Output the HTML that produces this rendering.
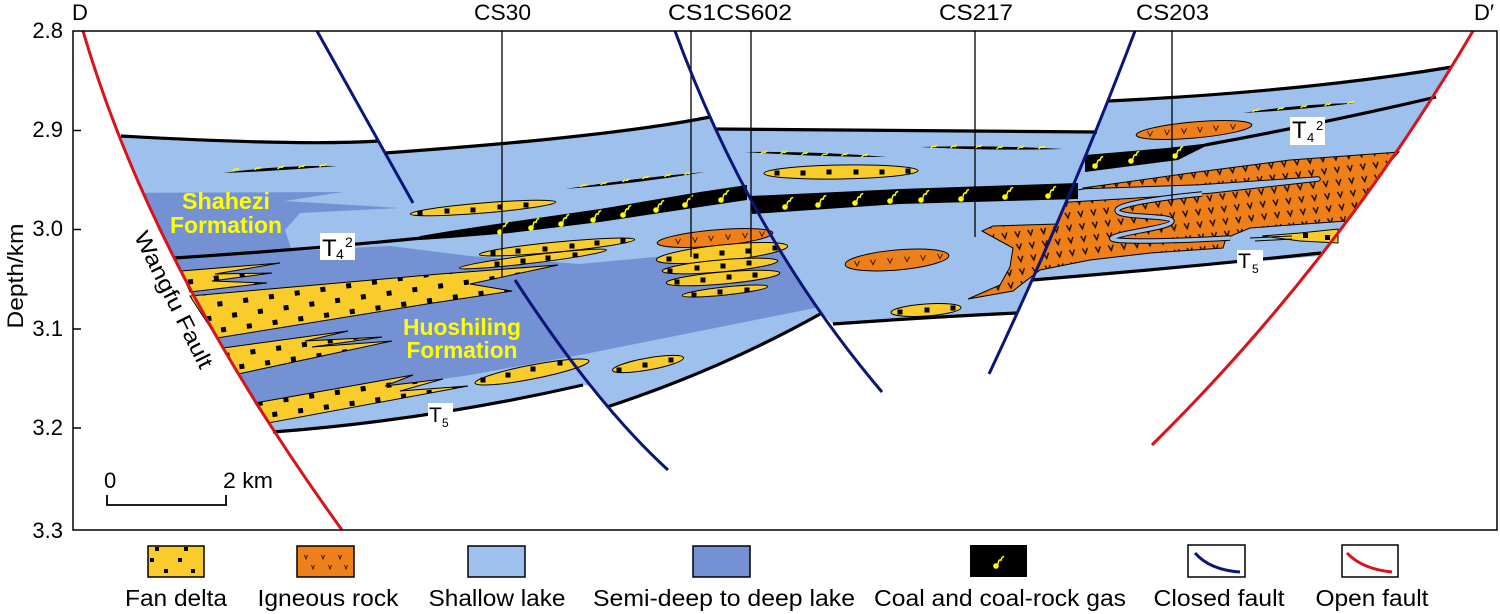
<!DOCTYPE html>
<html><head><meta charset="utf-8"><style>
html,body{margin:0;padding:0;background:#fff;}
svg{display:block;}
text{font-family:"Liberation Sans",Arial,sans-serif;}
</style></head><body>
<svg width="1500" height="614" viewBox="0 0 1500 614" xmlns="http://www.w3.org/2000/svg">
<defs>
<pattern id="fan" patternUnits="userSpaceOnUse" width="26" height="26" patternTransform="rotate(-8)">
<rect width="26" height="26" fill="#f9cb2b"/><rect x="4" y="4" width="5" height="5" fill="#000"/><rect x="17" y="17" width="5" height="5" fill="#000"/>
</pattern>
<pattern id="ign" patternUnits="userSpaceOnUse" width="13" height="12.5" patternTransform="rotate(-7)">
<rect width="13" height="12.5" fill="#ef8019"/><path d="M4,3.5 L6.5,9 L9,3.5" fill="none" stroke="#1a0d00" stroke-width="1.5"/>
</pattern>
<clipPath id="lbclip"><path d="M121,136 Q300,146 379,141 L385,153 C480,146 620,135 710,117 L726,151 L745,188 L765,225 L786,261 L809,295 L822,313 Q720,370 607,407 L591,386 L583,385 Q430,420 273,432 L271,426 L239,375 L209,324 L182,274 L158,224 L135,175 Z"/></clipPath>
<g id="cs"><circle cx="0" cy="0" r="2.8" fill="#ffff00"/><path d="M1.8,-1.8 L2.8,-5.2 Q3.5,-6.5 5,-5.8 L6.2,-8.8 L8.2,-9.6" fill="none" stroke="#ffff00" stroke-width="1.5"/></g>
<path id="ym" d="M-2.5,1 L0,-1 L2,-0.5 L4,-2.2" fill="none" stroke="#ffff00" stroke-width="1.4"/>
</defs>

<!-- block fills -->
<path d="M121,136 Q300,146 379,141 L385,153 C480,146 620,135 710,117 L726,151 L745,188 L765,225 L786,261 L809,295 L822,313 Q720,370 607,407 L591,386 L583,385 Q430,420 273,432 L271,426 L239,375 L209,324 L182,274 L158,224 L135,175 Z" fill="#9dc0ec"/>
<path d="M715,129 L900,131 L1097,132 L1081,166 L1067,200 L1052,234 L1037,269 L1029,286 L1021,304 L1017,313 Q930,317 833,324 L822,313 L809,295 L786,261 L765,225 L745,188 L726,151 Z" fill="#9dc0ec"/>
<path d="M1108,101 Q1300,92 1452,67 L1445,77 L1417,121 L1387,165 L1357,208 L1341,229 L1325,250 L1321,256 Q1180,268 1032,280 L1037,269 L1052,234 L1067,200 L1081,166 L1095,132 L1102,115 Z" fill="#9dc0ec"/>

<!-- deep lake -->
<g clip-path="url(#lbclip)">
<path d="M100,193 L343,192 L285,201 L400,208 L300,213 L285,230 L292,251 L390,246 L470,256 L580,264 L783,245 L830,245 L830,305 L580,355 L470,375 L300,400 L262,412 L100,420 Z" fill="#7491d3"/>
</g>

<!-- fan deltas big -->
<g stroke="#000" stroke-width="1" fill="url(#fan)">
<path d="M181,271 L280,263 L215,274 L272,273 L212,281 L267,283 L190,292 Z"/>
<path d="M190,296 L440,274 L558,265 L470,284 L512,291 L433,303 L217,338 Z"/>
<path d="M223,348 L348,331 L305,341 L382,337 L312,347 L392,341 L238,374 Z"/>
<path d="M255,403 L413,375 L385,386 L443,379 L400,391 L468,386 L268,423 Z"/>
</g>

<!-- orange lenses -->
<g stroke="#000" stroke-width="1" fill="#ef8019">
<ellipse cx="715" cy="238" rx="58" ry="8" transform="rotate(-5 715 238)"/>
<ellipse cx="897" cy="260" rx="52" ry="10" transform="rotate(-5 897 260)"/>
<ellipse cx="1194" cy="130" rx="58" ry="8" transform="rotate(-5 1194 130)"/>
</g>
<g stroke="#3a1a00" stroke-width="1" fill="none">
<path d="M675.5,238.7 L678,243.7 L680.5,238.7 M692.5,237.2 L695,242.2 L697.5,237.2 M708.5,235.8 L711,240.8 L713.5,235.8 M725.5,234.4 L728,239.4 L730.5,234.4 M742.5,232.9 L745,237.9 L747.5,232.9 M759.5,231.4 L762,236.4 L764.5,231.4"/>
<path d="M854.5,261 L857,266 L859.5,261 M870.5,259.6 L873,264.6 L875.5,259.6 M887.5,258.1 L890,263.1 L892.5,258.1 M904.5,256.6 L907,261.6 L909.5,256.6 M920.5,255.2 L923,260.2 L925.5,255.2 M937.5,253.8 L940,258.8 L942.5,253.8"/>
<path d="M1147.5,131.3 L1150,136.3 L1152.5,131.3 M1164.5,129.8 L1167,134.8 L1169.5,129.8 M1181.5,128.4 L1184,133.4 L1186.5,128.4 M1197.5,127 L1200,132 L1202.5,127 M1213.5,125.6 L1216,130.6 L1218.5,125.6 M1230.5,124.1 L1233,129.1 L1235.5,124.1"/>
</g>

<!-- fan lenses -->
<g stroke="#000" stroke-width="1" fill="#f9cb2b">
<ellipse cx="483" cy="208" rx="73" ry="5" transform="rotate(-4.7 483 208)"/>
<ellipse cx="557" cy="247" rx="78" ry="5" transform="rotate(-5.5 557 247)"/>
<ellipse cx="533" cy="259" rx="74" ry="4" transform="rotate(-7 533 259)"/>
<ellipse cx="532" cy="372" rx="58" ry="7" transform="rotate(-11 532 372)"/>
<ellipse cx="648" cy="364" rx="36" ry="6" transform="rotate(-10 648 364)"/>
<ellipse cx="722" cy="253" rx="66" ry="8" transform="rotate(-6 722 253)"/>
<ellipse cx="720" cy="266" rx="58" ry="6" transform="rotate(-5 720 266)"/>
<ellipse cx="723" cy="278" rx="57" ry="6" transform="rotate(-5 723 278)"/>
<ellipse cx="725" cy="291" rx="43" ry="4" transform="rotate(-6 725 291)"/>
<ellipse cx="841" cy="172" rx="77" ry="7" transform="rotate(-1 841 172)"/>
<ellipse cx="926" cy="310" rx="35" ry="6" transform="rotate(-4 926 310)"/>
</g>
<g fill="#000">
<rect x="417.5" y="210.5" width="5" height="5"/><rect x="444.5" y="208.5" width="5" height="5"/><rect x="470.5" y="207.5" width="5" height="5"/><rect x="497.5" y="204.5" width="5" height="5"/><rect x="523.5" y="202.5" width="5" height="5"/>
<rect x="490.5" y="250.5" width="5" height="5"/><rect x="515.5" y="248.5" width="5" height="5"/><rect x="542.5" y="246.5" width="5" height="5"/><rect x="569.5" y="243.5" width="5" height="5"/><rect x="594.5" y="240.5" width="5" height="5"/><rect x="620.5" y="238.5" width="5" height="5"/>
<rect x="494.5" y="261.5" width="5" height="5"/><rect x="520.5" y="258.5" width="5" height="5"/><rect x="545.5" y="255.5" width="5" height="5"/><rect x="572.5" y="252.5" width="5" height="5"/>
<rect x="480.5" y="377.5" width="5" height="5"/><rect x="505.5" y="372.5" width="5" height="5"/><rect x="530.5" y="366.5" width="5" height="5"/><rect x="557.5" y="360.5" width="5" height="5"/>
<rect x="616.5" y="367.5" width="5" height="5"/><rect x="642.5" y="362.5" width="5" height="5"/><rect x="668.5" y="357.5" width="5" height="5"/>
<rect x="666.5" y="256.5" width="5" height="5"/><rect x="693.5" y="253.5" width="5" height="5"/><rect x="719.5" y="250.5" width="5" height="5"/><rect x="745.5" y="248.5" width="5" height="5"/><rect x="772.5" y="245.5" width="5" height="5"/>
<rect x="667.5" y="268.5" width="5" height="5"/><rect x="694.5" y="265.5" width="5" height="5"/><rect x="720.5" y="263.5" width="5" height="5"/><rect x="746.5" y="260.5" width="5" height="5"/>
<rect x="674.5" y="279.5" width="5" height="5"/><rect x="700.5" y="277.5" width="5" height="5"/><rect x="726.5" y="274.5" width="5" height="5"/><rect x="752.5" y="272.5" width="5" height="5"/>
<rect x="691.5" y="292.5" width="5" height="5"/><rect x="717.5" y="289.5" width="5" height="5"/><rect x="744.5" y="287.5" width="5" height="5"/>
<rect x="774.5" y="170.5" width="5" height="5"/><rect x="800.5" y="170.5" width="5" height="5"/><rect x="826.5" y="169.5" width="5" height="5"/><rect x="853.5" y="169.5" width="5" height="5"/><rect x="879.5" y="169.5" width="5" height="5"/><rect x="905.5" y="168.5" width="5" height="5"/>
<rect x="897.5" y="309.5" width="5" height="5"/><rect x="924.5" y="307.5" width="5" height="5"/><rect x="950.5" y="305.5" width="5" height="5"/>
</g>

<!-- big igneous body -->
<path d="M1083,188 L1190,173 L1290,160 L1399,152 L1387,165 L1370,190 L1346,221 L1250,228 L1226,238 L1223,248 L1150,253 L1090,260 L1040,270 L1013,291 L968,299 L1000,285 L1010,267 L1013,248 L982,231 L993,226 L1058,224 L1067,199 L1083,191 Z" fill="url(#ign)" stroke="#000" stroke-width="1"/>
<path d="M1062,195 L1085,191 L1200,187 L1318,179 L1210,191 L1133,196 L1066,200" fill="none" stroke="#000" stroke-width="5.5" stroke-linejoin="round"/>
<path d="M1062,195 L1085,191 L1200,187 L1318,179 L1210,191 L1133,196 L1066,200 Z" fill="#9dc0ec" stroke="#9dc0ec" stroke-width="3.5" stroke-linejoin="round"/>
<path d="M1202,194 C1160,198 1110,205 1118,212 C1126,218 1170,215 1172,221 C1172,228 1120,232 1112,238 C1108,243 1180,241 1230,238" fill="none" stroke="#000" stroke-width="5.5"/>
<path d="M1202,194 C1160,198 1110,205 1118,212 C1126,218 1170,215 1172,221 C1172,228 1120,232 1112,238 C1108,243 1180,241 1230,238" fill="none" stroke="#9dc0ec" stroke-width="3.5"/>

<!-- small fan right -->
<path d="M1262,236 L1300,233 L1338,229 L1338,243 L1300,241 Z" fill="#f9cb2b" stroke="#000" stroke-width="1"/>
<path d="M1250,238 L1292,236 M1255,241 L1292,239" stroke="#000" stroke-width="1"/>
<rect x="1303" y="233" width="5" height="5" fill="#000"/><rect x="1325" y="235" width="5" height="5" fill="#000"/>

<!-- coal bands -->
<g fill="#000">
<path d="M420,236 L450,231 L510,222 L600,209 L700,192 L747,185 L747,200 L700,207 L600,222 L510,233 L450,238 L420,240 Z"/>
<path d="M750,196 L900,189 L1078,183 L1078,199 L900,204 L752,214 Z"/>
<path d="M1085,155 L1167,148 L1212,143 L1178,160 L1085,172 Z"/>
<path d="M223,173 Q280,165 337,166 Q280,171 223,173 Z"/>
<path d="M565,189 Q635,178 705,172 Q635,184 565,189 Z"/>
<path d="M745,152 Q816,151 887,157 Q816,157 745,152 Z"/>
<path d="M920,147 Q990,145 1063,149 Q990,151 920,147 Z"/>
<path d="M1243,113 Q1300,104 1355,103 Q1300,110 1243,113 Z"/>
</g>
<use href="#cs" x="500" y="232"/><use href="#cs" x="531" y="228"/><use href="#cs" x="561" y="224"/><use href="#cs" x="593" y="220"/><use href="#cs" x="623" y="215"/><use href="#cs" x="656" y="210"/><use href="#cs" x="685" y="205"/><use href="#cs" x="721" y="200"/>
<use href="#cs" x="785" y="207"/><use href="#cs" x="818" y="205"/><use href="#cs" x="855" y="203"/><use href="#cs" x="890" y="201"/><use href="#cs" x="921" y="200"/><use href="#cs" x="961" y="199"/><use href="#cs" x="1005" y="197"/><use href="#cs" x="1048" y="196"/>
<use href="#cs" x="1095" y="166"/><use href="#cs" x="1131" y="161"/><use href="#cs" x="1175" y="156"/>
<use href="#ym" x="235" y="170"/><use href="#ym" x="257" y="169"/><use href="#ym" x="280" y="168"/><use href="#ym" x="301" y="167"/><use href="#ym" x="322" y="166"/>
<use href="#ym" x="583" y="186"/><use href="#ym" x="603" y="184"/><use href="#ym" x="625" y="181"/><use href="#ym" x="645" y="178"/><use href="#ym" x="667" y="176"/><use href="#ym" x="687" y="174"/>
<use href="#ym" x="763" y="153"/><use href="#ym" x="783" y="153"/><use href="#ym" x="804" y="154"/><use href="#ym" x="824" y="155"/><use href="#ym" x="844" y="155"/><use href="#ym" x="864" y="156"/>
<use href="#ym" x="933" y="147"/><use href="#ym" x="953" y="147"/><use href="#ym" x="978" y="147"/><use href="#ym" x="999" y="148"/><use href="#ym" x="1020" y="148"/><use href="#ym" x="1041" y="148"/>
<use href="#ym" x="1255" y="111"/><use href="#ym" x="1280" y="109"/><use href="#ym" x="1303" y="107"/><use href="#ym" x="1327" y="105"/><use href="#ym" x="1350" y="103"/>

<!-- boundary lines -->
<g fill="none" stroke="#000" stroke-width="3.2">
<path d="M121,136 Q300,146 379,141"/>
<path d="M385,153 C480,146 620,135 710,117"/>
<path d="M715,129 Q900,130 1097,132"/>
<path d="M1108,101 Q1300,92 1452,67"/>
<path d="M174,258 Q300,250 422,238"/>
<path d="M1205,145 Q1330,122 1436,97"/>
<path d="M273,432 Q430,420 583,385"/>
<path d="M607,407 Q720,370 822,313"/>
<path d="M833,324 Q930,317 1017,313"/>
<path d="M1032,280 Q1180,268 1321,253"/>
</g>

<!-- T labels -->
<rect x="320" y="233" width="35" height="27" fill="#fff"/>
<text x="322" y="256" font-size="24">T</text><text x="336" y="259" font-size="14">4</text><text x="345" y="247" font-size="14">2</text>
<rect x="1290" y="117" width="35" height="28" fill="#fff"/>
<text x="1292" y="138" font-size="24">T</text><text x="1307" y="142" font-size="13">4</text><text x="1316" y="130" font-size="13">2</text>
<rect x="428" y="403" width="25" height="27" fill="#fff"/>
<text x="429" y="422" font-size="21">T</text><text x="442" y="427" font-size="12">5</text>
<rect x="1237" y="250" width="26" height="24" fill="#fff"/>
<text x="1238" y="268" font-size="21">T</text><text x="1252" y="273" font-size="12">5</text>

<!-- wells -->
<g stroke="#000" stroke-width="1.3">
<line x1="502" y1="31" x2="502" y2="277"/>
<line x1="691" y1="31" x2="691" y2="257"/>
<line x1="751" y1="31" x2="751" y2="257"/>
<line x1="975" y1="31" x2="975" y2="237"/>
<line x1="1172" y1="31" x2="1172" y2="203"/>
</g>

<!-- faults -->
<g fill="none" stroke-width="3">
<path d="M83,31 Q152,267 342,530" stroke="#d6141c"/>
<path d="M1473,31 Q1337.5,262 1152,445" stroke="#d6141c"/>
<path d="M317,31 L413,203" stroke="#0c1677"/>
<path d="M675,31 Q751.5,238.5 882,392" stroke="#0c1677"/>
<path d="M515,280 Q596.5,405 668,470" stroke="#0c1677"/>
<path d="M1135,31 Q1072,197.5 989,374" stroke="#0c1677"/>
</g>

<!-- frame & ticks -->
<rect x="73" y="31" width="1424" height="499" fill="none" stroke="#000" stroke-width="1.5"/>
<g stroke="#000" stroke-width="1.5">
<line x1="73" y1="130.5" x2="81" y2="130.5"/><line x1="73" y1="229.5" x2="81" y2="229.5"/><line x1="73" y1="329" x2="81" y2="329"/><line x1="73" y1="428" x2="81" y2="428"/>
</g>
<g font-size="22" text-anchor="end">
<text x="63" y="38">2.8</text><text x="63" y="137">2.9</text><text x="63" y="236">3.0</text><text x="63" y="336">3.1</text><text x="63" y="435">3.2</text><text x="63" y="538">3.3</text>
</g>
<text transform="translate(23,276) rotate(-90)" text-anchor="middle" font-size="22" textLength="105" lengthAdjust="spacingAndGlyphs">Depth/km</text>

<!-- top labels -->
<g font-size="22">
<text x="72" y="20">D</text>
<text x="474" y="20" textLength="57" lengthAdjust="spacingAndGlyphs">CS30</text>
<text x="668" y="20" textLength="124" lengthAdjust="spacingAndGlyphs">CS1CS602</text>
<text x="939" y="20" textLength="74" lengthAdjust="spacingAndGlyphs">CS217</text>
<text x="1136" y="20" textLength="73" lengthAdjust="spacingAndGlyphs">CS203</text>
<text x="1474" y="20">D′</text>
</g>

<!-- formation labels -->
<g fill="#ffff00" font-size="23" font-weight="bold" text-anchor="middle">
<text x="226" y="209" textLength="88" lengthAdjust="spacingAndGlyphs">Shahezi</text>
<text x="226" y="233" textLength="112" lengthAdjust="spacingAndGlyphs">Formation</text>
<text x="462" y="335" textLength="118" lengthAdjust="spacingAndGlyphs">Huoshiling</text>
<text x="462" y="358" textLength="111" lengthAdjust="spacingAndGlyphs">Formation</text>
</g>
<text transform="translate(167,303) rotate(63.6)" text-anchor="middle" font-size="22" textLength="150" lengthAdjust="spacingAndGlyphs">Wangfu Fault</text>

<!-- scale bar -->
<path d="M107,495 L107,505 L226,505 L226,495" fill="none" stroke="#000" stroke-width="1.8"/>
<text x="104" y="488" font-size="22">0</text>
<text x="223" y="488" font-size="22" textLength="50" lengthAdjust="spacingAndGlyphs">2 km</text>

<!-- legend -->
<rect x="148" y="546" width="56" height="31" fill="#f9cb2b" stroke="#000" stroke-width="1.5"/>
<g fill="#000"><rect x="155" y="547" width="4" height="4"/><rect x="184" y="547" width="4" height="4"/><rect x="150" y="558" width="4" height="4"/><rect x="178" y="558" width="4" height="4"/><rect x="164" y="569" width="4" height="4"/><rect x="191" y="569" width="4" height="4"/></g>
<rect x="297" y="546" width="57" height="31" fill="#ef8019" stroke="#000" stroke-width="1.5"/>
<path d="M304.5,555 L306,559 L307.5,555 M321.5,555 L323,559 L324.5,555 M338.5,555 L340,559 L341.5,555 M311.5,565 L313,569 L314.5,565 M328.5,565 L330,569 L331.5,565 M344.5,565 L346,569 L347.5,565" fill="none" stroke="#3a1a00" stroke-width="1"/>
<rect x="468" y="546" width="57" height="31" fill="#9dc0ec" stroke="#000" stroke-width="1.5"/>
<rect x="693" y="546" width="57" height="31" fill="#7491d3" stroke="#000" stroke-width="1.5"/>
<rect x="970" y="545" width="57" height="32" fill="#000"/>
<use href="#cs" x="996" y="566"/>
<rect x="1188" y="545" width="57" height="32" fill="#fff" stroke="#000" stroke-width="1.5"/>
<path d="M1195,553 Q1210,570 1240,572" fill="none" stroke="#0c1677" stroke-width="3"/>
<rect x="1342" y="545" width="56" height="32" fill="#fff" stroke="#000" stroke-width="1.5"/>
<path d="M1347,553 Q1362,569 1392,572" fill="none" stroke="#d6141c" stroke-width="3"/>
<g font-size="23" text-anchor="middle">
<text x="176" y="606" textLength="102" lengthAdjust="spacingAndGlyphs">Fan delta</text>
<text x="328" y="606" textLength="141" lengthAdjust="spacingAndGlyphs">Igneous rock</text>
<text x="497" y="606" textLength="137" lengthAdjust="spacingAndGlyphs">Shallow lake</text>
<text x="724" y="606" textLength="262" lengthAdjust="spacingAndGlyphs">Semi-deep to deep lake</text>
<text x="1000" y="606" textLength="252" lengthAdjust="spacingAndGlyphs">Coal and coal-rock gas</text>
<text x="1219" y="606" textLength="131" lengthAdjust="spacingAndGlyphs">Closed fault</text>
<text x="1372" y="606" textLength="113" lengthAdjust="spacingAndGlyphs">Open fault</text>
</g>
</svg>
</body></html>
